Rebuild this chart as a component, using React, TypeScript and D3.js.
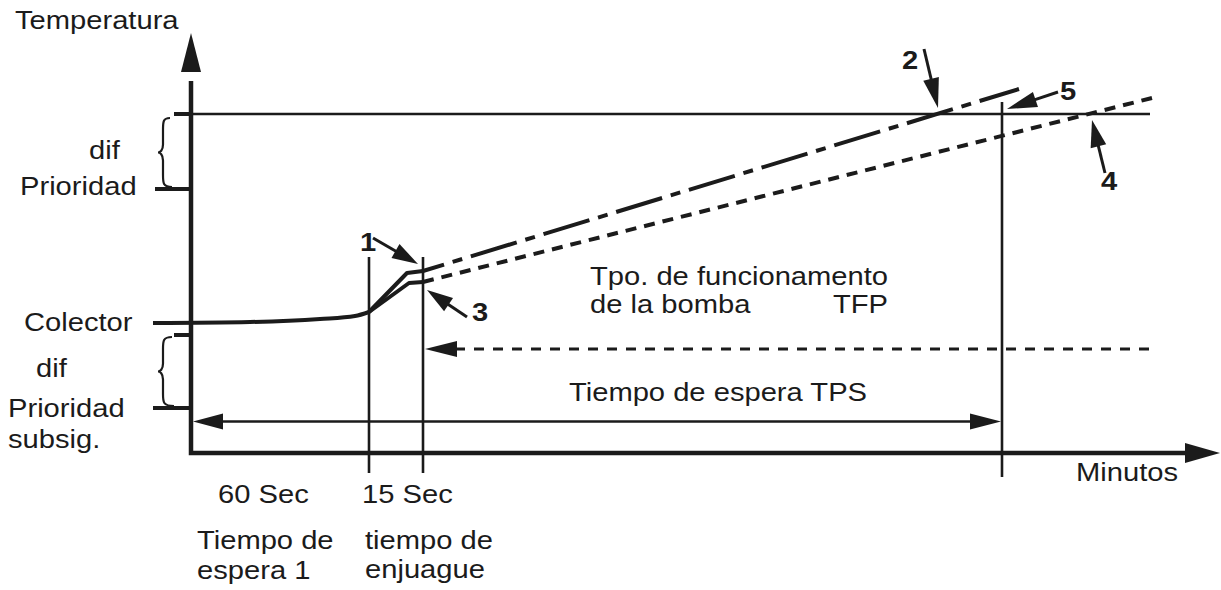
import React from "react";
import * as d3 from "d3";

// Chart units: x = time offset from start, y = temperature offset from axis
const levelNames = ["prioTop", "prioridad", "colector", "difLow", "subsig"];
const levelValues = [339, 264, 130, 118, 45];

const collectorX = [-38, 59, 129, 164, 178];
const collectorY = [130, 131, 134, 137, 141];
const upperRiseX = [178, 216, 232];
const upperRiseY = [141, 180, 182];
const lowerRiseX = [178, 218, 232];
const lowerRiseY = [141, 170, 171];
const line2X = [232, 828];
const line2Y = [182, 364];
const line4X = [232, 961];
const line4Y = [171, 355];

const markerTimes = [178, 232, 811]; // 60 Sec end, 15 Sec end, TPS end
const tpsLevel = 31.5;
const tfpLevel = 104;

const W = 1221;
const H = 590;
const ink = "#1b1b1b";

function Arrow({ x1, y1, x2, y2, len, half, sw }: any) {
  const dx = x2 - x1, dy = y2 - y1;
  const d = Math.hypot(dx, dy);
  const ux = dx / d, uy = dy / d;
  const bx = x2 - ux * len, by = y2 - uy * len;
  const px = -uy * half, py = ux * half;
  return (
    <g>
      <line x1={x1} y1={y1} x2={bx + ux * 2} y2={by + uy * 2} stroke={ink} strokeWidth={sw} />
      <polygon points={`${x2},${y2} ${bx + px},${by + py} ${bx - px},${by - py}`} fill={ink} />
    </g>
  );
}

function T({ x, y, children, bold }: any) {
  return (
    <text
      transform={`translate(${x},${y}) scale(1.1,1)`}
      fontFamily="'Liberation Sans', Arial, sans-serif"
      fontSize={26.5}
      fontWeight={bold ? "bold" : "normal"}
      fill={ink}
    >
      {children}
    </text>
  );
}

export default function App() {
  const x = d3.scaleLinear().domain([0, 1027]).range([191, 1218]);
  const y = d3.scaleLinear().domain([0, 420]).range([453, 33]);
  const lv = (n: string) => levelValues[levelNames.indexOf(n)];

  const mono = d3.line<[number, number]>().x(d => x(d[0])).y(d => y(d[1])).curve(d3.curveMonotoneX);
  const lin = d3.line<[number, number]>().x(d => x(d[0])).y(d => y(d[1]));
  const zip = (a: number[], b: number[]) => a.map((v, i) => [v, b[i]] as [number, number]);

  const brace = (x0: number, yTop: number, yBot: number, xm: number) => {
    const ym = (yTop + yBot) / 2;
    const xv = xm + 5;
    return `M${x0},${yTop} C${xv},${yTop} ${xv},${yTop + 4} ${xv},${yTop + 12} L${xv},${ym - 8} C${xv},${ym - 2} ${xm + 2},${ym} ${xm},${ym} C${xm + 2},${ym} ${xv},${ym + 2} ${xv},${ym + 8} L${xv},${yBot - 12} C${xv},${yBot - 4} ${xv},${yBot} ${x0 + 2},${yBot}`;
  };

  return (
    <div style={{ position: "fixed", left: 0, top: 0 }}>
      <svg width={W} height={H} style={{ display: "block", background: "#fff" }}>
        {/* threshold line */}
        <line x1={x(-17)} x2={x(959)} y1={y(lv("prioTop"))} y2={y(lv("prioTop"))} stroke={ink} strokeWidth={2.6} />
        <line x1={x(-17)} x2={x(0)} y1={y(lv("prioTop"))} y2={y(lv("prioTop"))} stroke={ink} strokeWidth={4} />
        {/* ticks */}
        <line x1={x(-36)} x2={x(0)} y1={y(lv("prioridad"))} y2={y(lv("prioridad"))} stroke={ink} strokeWidth={4} />
        <line x1={x(-17)} x2={x(0)} y1={y(lv("difLow"))} y2={y(lv("difLow"))} stroke={ink} strokeWidth={4} />
        <line x1={x(-38)} x2={x(0)} y1={y(lv("subsig"))} y2={y(lv("subsig"))} stroke={ink} strokeWidth={4} />
        {/* braces */}
        <path d={brace(170, 118, 187, 158)} fill="none" stroke={ink} strokeWidth={2.2} />
        <path d={brace(172, 337, 406, 158)} fill="none" stroke={ink} strokeWidth={2.2} />

        {/* vertical marker lines */}
        <line x1={x(markerTimes[0])} x2={x(markerTimes[0])} y1={y(-20)} y2={y(196)} stroke={ink} strokeWidth={2.6} />
        <line x1={x(markerTimes[1])} x2={x(markerTimes[1])} y1={y(-20)} y2={y(196)} stroke={ink} strokeWidth={2.6} />
        <line x1={x(markerTimes[2])} x2={x(markerTimes[2])} y1={y(-24)} y2={y(351)} stroke={ink} strokeWidth={2.6} />

        {/* curves */}
        <path d={mono(zip(collectorX, collectorY)) || ""} fill="none" stroke={ink} strokeWidth={4} />
        <path d={lin(zip(upperRiseX, upperRiseY)) || ""} fill="none" stroke={ink} strokeWidth={4} strokeLinejoin="round" />
        <path d={lin(zip(lowerRiseX, lowerRiseY)) || ""} fill="none" stroke={ink} strokeWidth={4} strokeLinejoin="round" />
        <path d={lin(zip(line2X, line2Y)) || ""} fill="none" stroke={ink} strokeWidth={4} strokeDasharray="48 9 10 9" strokeDashoffset={26} />
        <path d={lin(zip(line4X, line4Y)) || ""} fill="none" stroke={ink} strokeWidth={4} strokeDasharray="11 8" />

        {/* TFP dashed arrow */}
        <line x1={x(260)} x2={x(963)} y1={y(tfpLevel)} y2={y(tfpLevel)} stroke={ink} strokeWidth={3} strokeDasharray="10 9" strokeDashoffset={-4} />
        <polygon points={`${x(234)},${y(tfpLevel)} ${x(266)},${y(tfpLevel) - 8} ${x(266)},${y(tfpLevel) + 8}`} fill={ink} />

        {/* TPS double arrow */}
        <line x1={x(20)} x2={x(790)} y1={y(tpsLevel)} y2={y(tpsLevel)} stroke={ink} strokeWidth={2.6} />
        <polygon points={`${x(2)},${y(tpsLevel)} ${x(32)},${y(tpsLevel) - 8} ${x(32)},${y(tpsLevel) + 8}`} fill={ink} />
        <polygon points={`${x(810)},${y(tpsLevel)} ${x(779)},${y(tpsLevel) - 8} ${x(779)},${y(tpsLevel) + 8}`} fill={ink} />

        {/* axes */}
        <path d={`M${x(0)},${y(372)} V${y(0)} H${x(995)}`} fill="none" stroke={ink} strokeWidth={4.5} strokeLinejoin="miter" />
        <polygon points={`${x(0)},${y(420)} ${x(0) - 10},${y(381)} ${x(0) + 10},${y(381)}`} fill={ink} />
        <polygon points={`${x(1029)},${y(0)} ${x(994)},${y(0) - 10} ${x(994)},${y(0) + 10}`} fill={ink} />

        {/* annotation arrows */}
        <Arrow x1={373} y1={238} x2={418} y2={264} len={26} half={8} sw={3} />
        <Arrow x1={467} y1={317} x2={427} y2={290} len={26} half={8} sw={3} />
        <Arrow x1={924} y1={49} x2={938} y2={108} len={30} half={8} sw={3} />
        <Arrow x1={1058} y1={92} x2={1007} y2={109} len={30} half={8} sw={3} />
        <Arrow x1={1105} y1={173} x2={1092} y2={120} len={27} half={8} sw={3} />

        {/* texts */}
        <T x={15} y={29}>Temperatura</T>
        <T x={89} y={159}>dif</T>
        <T x={20} y={195}>Prioridad</T>
        <T x={24} y={331}>Colector</T>
        <T x={36} y={377}>dif</T>
        <T x={8} y={417}>Prioridad</T>
        <T x={8} y={448}>subsig.</T>
        <T x={1076} y={481}>Minutos</T>
        <T x={218} y={503}>60 Sec</T>
        <T x={362} y={503}>15 Sec</T>
        <T x={197} y={549}>Tiempo de</T>
        <T x={197} y={579}>espera 1</T>
        <T x={365} y={549}>tiempo de</T>
        <T x={365} y={578}>enjuague</T>
        <T x={590} y={285}>Tpo. de funcionamento</T>
        <T x={590} y={313}>de la bomba</T>
        <T x={833} y={313}>TFP</T>
        <T x={569} y={401}>Tiempo de espera TPS</T>
        <T x={360} y={251} bold>1</T>
        <T x={472} y={321} bold>3</T>
        <T x={902} y={69} bold>2</T>
        <T x={1060} y={100} bold>5</T>
        <T x={1101} y={190} bold>4</T>
      </svg>
    </div>
  );
}
